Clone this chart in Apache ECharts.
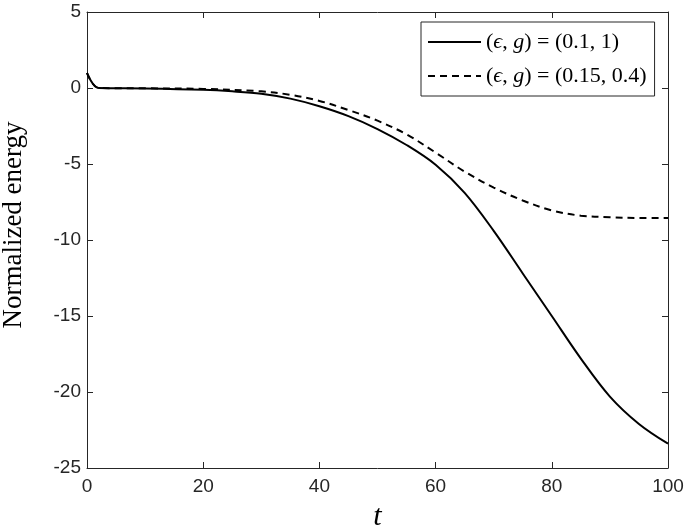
<!DOCTYPE html>
<html>
<head>
<meta charset="utf-8">
<script src="https://cdn.jsdelivr.net/npm/echarts@6/dist/echarts.min.js"></script>
<style>
  html, body { margin: 0; padding: 0; background: #fff; }
  #chart { width: 685px; height: 531px; }
</style>
</head>
<body>
<div id="chart"></div>
<script>
// 数据
var tSolid = [0, 2, 10, 20, 25, 30, 35, 40, 45, 50, 55, 60, 65, 70, 75, 80, 85, 90, 95, 100];
var eSolid = [1, 0, -0.03, -0.12, -0.22, -0.38, -0.7, -1.2, -1.85, -2.7, -3.75, -5.05, -6.9, -9.4, -12.2, -15.0, -17.8, -20.3, -22.1, -23.4];
var tDash = [0, 2, 10, 20, 30, 35, 40, 45, 50, 55, 60, 65, 70, 75, 80, 85, 90, 95, 100];
var eDash = [1, 0, -0.02, -0.06, -0.22, -0.45, -0.85, -1.45, -2.15, -3.05, -4.25, -5.5, -6.55, -7.4, -8.05, -8.4, -8.5, -8.55, -8.55];
var xTicks = [0, 20, 40, 60, 80, 100];
var yTicks = [5, 0, -5, -10, -15, -20, -25];
var names = ['(ϵ, g) = (0.1, 1)', '(ϵ, g) = (0.15, 0.4)'];
var labelsRich = ['({i|ϵ}, {i|g}) = (0.1, 1)', '({i|ϵ}, {i|g}) = (0.15, 0.4)'];

function pairs(xs, ys) {
	var out = [];
	for (var i = 0; i < xs.length; i++) out.push([xs[i], ys[i]]);
	return out;
}

var axisCol = '#262626';
var tickFont = { color: axisCol, fontSize: 19, fontFamily: 'Liberation Sans' };

var chart = echarts.init(document.getElementById('chart'));
var option = {
	animation: false,
	grid: { left: 87, right: 17, top: 12, bottom: 63, outerBoundsMode: 'none', containLabel: false },
	legend: {
		orient: 'vertical',
		left: 421,
		top: 22,
		padding: [9, 8, 9, 6],
		itemGap: 12,
		itemWidth: 53,
		itemHeight: 22,
		borderColor: axisCol,
		borderWidth: 1,
		backgroundColor: '#fff',
		data: names,
		itemStyle: { opacity: 0 },
		formatter: function (n) { return labelsRich[names.indexOf(n)]; },
		textStyle: {
			color: '#000', fontSize: 22, fontFamily: 'Liberation Serif',
			rich: { i: { fontStyle: 'italic', fontSize: 22, fontFamily: 'Liberation Serif' } }
		}
	},
	xAxis: [{
		type: 'value', min: 0, max: 100, interval: 20,
		name: 't', nameLocation: 'middle', nameGap: 34,
		nameTextStyle: { fontSize: 30, fontStyle: 'italic', fontFamily: 'Liberation Serif', color: '#000' },
		axisLine: { onZero: false, lineStyle: { color: axisCol, width: 1 } },
		axisTick: { inside: true, length: 6, lineStyle: { color: axisCol } },
		axisLabel: Object.assign({ margin: 9 }, tickFont),
		splitLine: { show: false }
	}, {
		type: 'value', min: 0, max: 100, interval: 20, position: 'top',
		axisLine: { onZero: false, lineStyle: { color: axisCol, width: 1 } },
		axisTick: { inside: true, length: 6, lineStyle: { color: axisCol } },
		axisLabel: { show: false },
		splitLine: { show: false }
	}],
	yAxis: [{
		type: 'value', min: -25, max: 5, interval: 5,
		name: 'Normalized energy', nameLocation: 'middle', nameGap: 60,
		nameTextStyle: { fontSize: 27, fontFamily: 'Liberation Serif', color: '#000', padding: [0, 0, 0, 30] },
		axisLine: { show: true, onZero: false, lineStyle: { color: axisCol, width: 1 } },
		axisTick: { show: true, inside: true, length: 6, lineStyle: { color: axisCol } },
		axisLabel: Object.assign({ margin: 6 }, tickFont),
		splitLine: { show: false }
	}, {
		type: 'value', min: -25, max: 5, interval: 5, position: 'right',
		axisLine: { show: true, onZero: false, lineStyle: { color: axisCol, width: 1 } },
		axisTick: { show: true, inside: true, length: 6, lineStyle: { color: axisCol } },
		axisLabel: { show: false },
		splitLine: { show: false }
	}],
	series: [{
		name: names[0], type: 'line', smooth: 0.35, symbol: 'none',
		data: pairs(tSolid, eSolid),
		lineStyle: { color: '#000', width: 2 },
		itemStyle: { color: '#000' }
	}, {
		name: names[1], type: 'line', smooth: 0.35, symbol: 'none',
		data: pairs(tDash, eDash),
		lineStyle: { color: '#000', width: 2, type: [7, 5] },
		itemStyle: { color: '#000' }
	}]
};
chart.setOption(option);
</script>
</body>
</html>
